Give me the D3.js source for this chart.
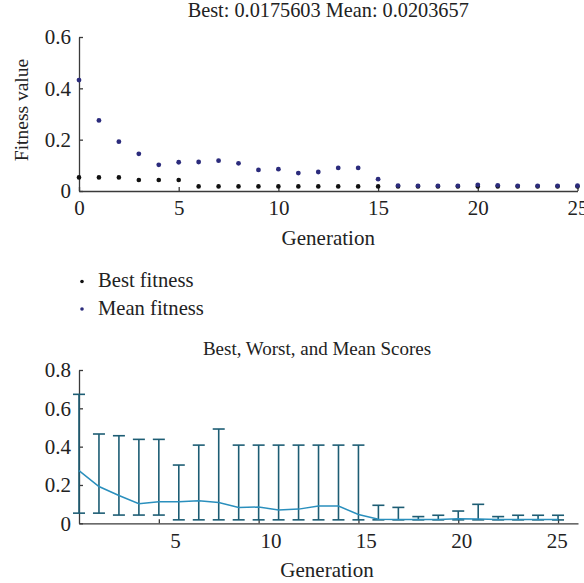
<!DOCTYPE html>
<meta charset="utf-8">
<style>
  body { margin: 0; background: #fff; }
  svg text { fill: #222; }
  .axis path, .axis line { stroke: #3a3a3a; stroke-width: 1.3; }
</style>
<svg width="584" height="583"></svg>
<script src="https://cdn.jsdelivr.net/npm/d3@7/dist/d3.min.js"></script>
<script>

// generations 0..25 (top chart), best / mean fitness per generation
const generations = [0,1,2,3,4,5,6,7,8,9,10,11,12,13,14,15,16,17,18,19,20,21,22,23,24,25];
const bestFitness = [0.053,0.053,0.053,0.043,0.043,0.043,0.018,0.018,0.018,0.018,0.018,0.018,0.018,
                     0.018,0.018,0.018,0.018,0.018,0.018,0.018,0.018,0.018,0.018,0.018,0.018,0.0176];
const meanFitness = [0.432,0.275,0.192,0.145,0.102,0.112,0.113,0.118,0.108,0.082,0.085,0.070,0.074,
                     0.090,0.090,0.046,0.021,0.020,0.020,0.020,0.024,0.022,0.020,0.020,0.020,0.0204];
// worst score for generations 1..25 (bottom chart)
const worstScore = [0.673,0.466,0.457,0.438,0.438,0.304,0.408,0.492,0.408,0.408,0.408,0.408,0.408,
                    0.408,0.408,0.094,0.083,0.035,0.042,0.064,0.099,0.035,0.042,0.042,0.042];

const topYTicks = [0, 0.2, 0.4, 0.6];
const topXTicks = [0, 5, 10, 15, 20, 25];
const botYTicks = [0, 0.2, 0.4, 0.6, 0.8];
const botXTicks = [5, 10, 15, 20, 25];

const svg = d3.select("svg");
const fmt = d => d === 0 ? "0" : d3.format(".1f")(d);
const serif = "Liberation Serif, Times New Roman, serif";

////////////////////
// TOP CHART

const x1 = d3.scaleLinear().domain([0, 25]).range([79, 577.5]);
const y1 = d3.scaleLinear().domain([0, 0.6]).range([191, 37]);

const topChart = svg.append("g");

topChart.append("g")
  .attr("class", "axis")
  .attr("transform", `translate(0, ${y1(0)})`)
  .call(d3.axisBottom(x1).tickValues(topXTicks).tickSizeInner(-4).tickSizeOuter(0).tickPadding(9.5));

topChart.append("g")
  .attr("class", "axis")
  .attr("transform", `translate(${x1(0)}, 0)`)
  .call(d3.axisLeft(y1).tickValues(topYTicks).tickFormat(fmt).tickSizeInner(-4).tickSizeOuter(0).tickPadding(8));

topChart.append("text")
  .attr("x", (x1.range()[0] + x1.range()[1]) / 2)
  .attr("y", 17)
  .attr("font-size", 20.3)
  .attr("text-anchor", "middle")
  .text(`Best: 0.0175603 Mean: 0.0203657`);

topChart.append("text")
  .attr("x", (x1.range()[0] + x1.range()[1]) / 2)
  .attr("y", 245)
  .attr("font-size", 21)
  .attr("text-anchor", "middle")
  .text("Generation");

topChart.append("text")
  .attr("transform", "translate(28, 110) rotate(-90)")
  .attr("font-size", 19.5)
  .attr("text-anchor", "middle")
  .text("Fitness value");

topChart.selectAll(".best")
  .data(generations)
  .enter().append("circle")
  .attr("cx", d => x1(d))
  .attr("cy", (d, i) => y1(bestFitness[i]))
  .attr("r", 2.3)
  .attr("fill", "#111");

topChart.selectAll(".mean")
  .data(generations)
  .enter().append("circle")
  .attr("cx", d => x1(d))
  .attr("cy", (d, i) => y1(meanFitness[i]))
  .attr("r", 2.4)
  .attr("fill", "#2b2b7c");

// legend
const legendItems = [["Best fitness", "#111"], ["Mean fitness", "#2b2b7c"]];
const legend = svg.append("g");
legendItems.forEach((d, i) => {
  legend.append("circle")
    .attr("cx", 82).attr("cy", 281.5 + i * 27.5)
    .attr("r", 1.8).attr("fill", d[1]);
  legend.append("text")
    .attr("x", 98).attr("y", 287 + i * 27.5)
    .attr("font-size", 20.6)
    .text(d[0]);
});

////////////////////
// BOTTOM CHART

const x2 = d3.scaleLinear().domain([1, 26]).range([79, 578]);
const xLab = d3.scaleLinear().domain([0, 25]).range([79.6, 556.7]);
const y2 = d3.scaleLinear().domain([0, 0.8]).range([523.3, 370]);

const bot = svg.append("g");

bot.append("g")
  .attr("class", "axis")
  .attr("transform", `translate(0, ${y2(0)})`)
  .call(d3.axisBottom(x2).tickValues(botXTicks).tickFormat("").tickSizeInner(-4).tickSizeOuter(0));

bot.append("g")
  .attr("class", "axis")
  .attr("transform", `translate(0, ${y2(0)})`)
  .call(d3.axisBottom(xLab).tickValues(botXTicks).tickSize(0).tickPadding(9.5))
  .call(g => g.select(".domain").remove());

bot.append("g")
  .attr("class", "axis")
  .attr("transform", `translate(${x2(1)}, 0)`)
  .call(d3.axisLeft(y2).tickValues(botYTicks).tickFormat(fmt).tickSizeInner(-4).tickSizeOuter(0).tickPadding(8));

bot.append("text")
  .attr("x", 317)
  .attr("y", 355)
  .attr("font-size", 19)
  .attr("text-anchor", "middle")
  .text("Best, Worst, and Mean Scores");

bot.append("text")
  .attr("x", 327)
  .attr("y", 577)
  .attr("font-size", 21)
  .attr("text-anchor", "middle")
  .text("Generation");

const rangeData = worstScore.map((w, i) => ({
  gen: generations[i + 1],
  best: bestFitness[i + 1],
  mean: meanFitness[i + 1],
  worst: w
}));

const errColor = "#1d5d74";
const bars = bot.selectAll(".err")
  .data(rangeData)
  .enter().append("g")
  .attr("stroke", errColor)
  .attr("stroke-width", 1.6);

bars.append("line")
  .attr("x1", d => x2(d.gen)).attr("x2", d => x2(d.gen))
  .attr("y1", d => y2(d.best)).attr("y2", d => y2(d.worst));
bars.append("line")
  .attr("x1", d => x2(d.gen) - 6).attr("x2", d => x2(d.gen) + 6)
  .attr("y1", d => y2(d.worst)).attr("y2", d => y2(d.worst));
bars.append("line")
  .attr("x1", d => x2(d.gen) - 6).attr("x2", d => x2(d.gen) + 6)
  .attr("y1", d => y2(d.best)).attr("y2", d => y2(d.best));

bot.append("path")
  .datum(rangeData)
  .attr("fill", "none")
  .attr("stroke", "#2a8fbd")
  .attr("stroke-width", 1.5)
  .attr("d", d3.line().x(d => x2(d.gen)).y(d => y2(d.mean)));

// serif face for every text, axis groups included
svg.selectAll(".axis").attr("font-family", serif).attr("font-size", 21);
svg.selectAll("text").attr("font-family", serif);

</script>
